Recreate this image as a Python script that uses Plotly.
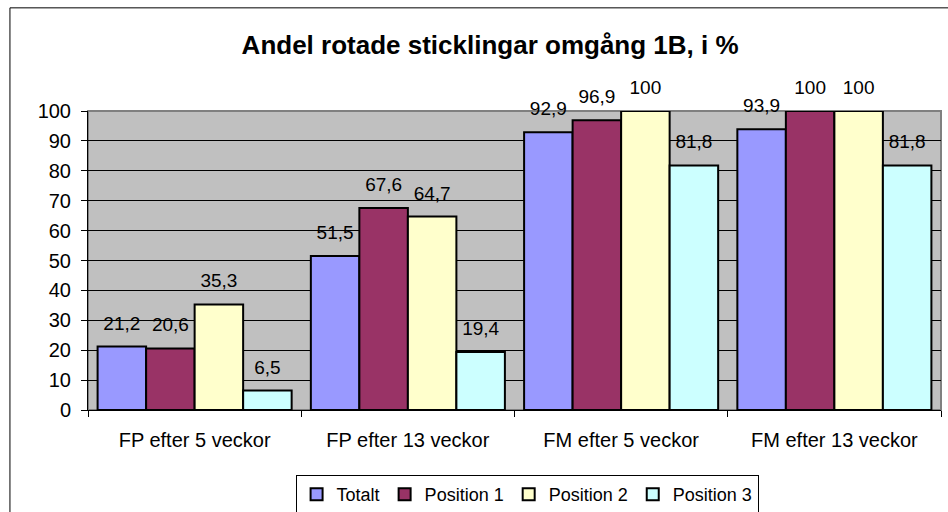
import plotly.graph_objects as go

categories = ['FP efter 5 veckor', 'FP efter 13 veckor', 'FM efter 5 veckor', 'FM efter 13 veckor']
series_names = ['Totalt', 'Position 1', 'Position 2', 'Position 3']
totalt = [21.2, 51.5, 92.9, 93.9]
position_1 = [20.6, 67.6, 96.9, 100]
position_2 = [35.3, 64.7, 100, 100]
position_3 = [6.5, 19.4, 81.8, 81.8]
y_ticks = [0, 10, 20, 30, 40, 50, 60, 70, 80, 90, 100]

colors = ['#9999FF', '#993366', '#FFFFCC', '#CCFFFF']
series = [totalt, position_1, position_2, position_3]


def fmt(v):
    # Swedish decimal comma
    s = ('%.1f' % v).replace('.', ',')
    return s[:-2] if s.endswith(',0') else s


fig = go.Figure()
for name, vals, col in zip(series_names, series, colors):
    fig.add_trace(go.Bar(
        x=categories,
        y=vals,
        name=name,
        marker=dict(color=col, line=dict(color='black', width=2)),
        hoverinfo='skip',
    ))

# value labels as grouped scatter text, so they sit a bit higher above the bars
for name, vals in zip(series_names, series):
    fig.add_trace(go.Scatter(
        x=categories,
        y=vals,
        mode='markers+text',
        marker=dict(size=18, opacity=0),
        text=[fmt(v) for v in vals],
        textposition='top center',
        textfont=dict(size=19, color='black'),
        showlegend=False,
        hoverinfo='skip',
        cliponaxis=False,
    ))

fig.update_layout(
    barmode='group',
    bargap=0.09,
    bargroupgap=0,
    scattermode='group',
    scattergap=0.09,
    width=948,
    height=512,
    margin=dict(l=88, r=7, t=111, b=102),
    paper_bgcolor='white',
    plot_bgcolor='#C0C0C0',
    font=dict(family='Liberation Sans, Arial', size=19, color='black'),
    title=dict(
        text='<b>Andel rotade sticklingar omgång 1B, i %</b>',
        x=0.517, xanchor='center',
        y=0.912, yanchor='middle',
        font=dict(size=26),
    ),
    showlegend=True,
    legend=dict(
        orientation='h',
        xref='container', yref='container',
        x=0.556, xanchor='center',
        y=0.072, yanchor='top',
        bordercolor='black', borderwidth=1,
        bgcolor='white',
        font=dict(size=18),
        traceorder='normal',
        itemwidth=30,
        tracegroupgap=0,
    ),
)

fig.update_yaxes(
    range=[0, 100],
    tickvals=y_ticks,
    ticks='outside', ticklen=6, tickcolor='black',
    showgrid=True, gridcolor='black', gridwidth=1,
    showline=True, linecolor='black', linewidth=1,
    tickfont=dict(size=20),
    ticklabelstandoff=6,
    zeroline=False,
)
fig.update_xaxes(
    ticks='outside', tickson='boundaries', ticklen=6, tickcolor='black',
    showline=True, linecolor='black', linewidth=1,
    tickfont=dict(size=20),
    ticklabelstandoff=12,
)

# plot area border and outer chart border
fig.add_shape(type='rect', xref='paper', yref='paper', x0=0, x1=1, y0=0, y1=1,
              line=dict(color='#808080', width=2), layer='below')
fig.add_shape(type='rect', xref='paper', yref='paper',
              x0=-0.0915, x1=1.02, y0=-0.36, y1=1.345,
              line=dict(color='black', width=1))

# drop the default page margin so the figure sits at the window's corner
fig.write_html('out.html', config={'displayModeBar': False},
               post_script="document.body.style.margin='0';")
